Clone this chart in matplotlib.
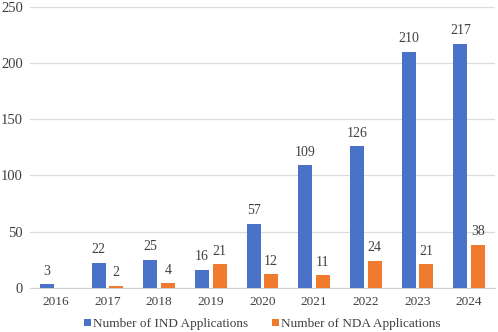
import numpy as np
import matplotlib.pyplot as plt

years = ["2016", "2017", "2018", "2019", "2020", "2021", "2022", "2023", "2024"]
ind = [3, 22, 25, 16, 57, 109, 126, 210, 217]
nda = [0, 2, 4, 21, 12, 11, 24, 21, 38]

plt.rcParams['font.family'] = ['Liberation Serif', 'DejaVu Serif']

fig = plt.figure(figsize=(4.98, 3.32), dpi=100)
ax = fig.add_axes([0.06, 0.133, 0.934, 0.846])

x = np.arange(len(years))
w = 0.27
off = 0.17
ax.bar(x - off, ind, w, color='#4a72c9', label='Number of IND Applications', zorder=3)
ax.bar(x + off, nda, w, color='#f07a2e', label='Number of NDA Applications', zorder=3)

txt = '#404040'
for xi, v in zip(x, ind):
    ax.text(xi - off, v + 6, str(v), ha='center', va='bottom', fontsize=10, color=txt)
for xi, v in zip(x, nda):
    if v > 0:
        ax.text(xi + off, v + 6, str(v), ha='center', va='bottom', fontsize=10, color=txt)

ax.set_ylim(0, 250)
ax.set_yticks([0, 50, 100, 150, 200, 250])
ax.set_xlim(-0.5, 8.5)
ax.set_xticks(x)
ax.set_xticklabels(years)
ax.tick_params(length=0, labelsize=9.5, colors=txt)
ax.tick_params(axis='y', pad=5, labelsize=10.5)
ax.tick_params(axis='x', pad=6)
ax.grid(axis='y', color='#dcdcdc', linewidth=0.9, zorder=0)
for s in ['top', 'right', 'left']:
    ax.spines[s].set_visible(False)
ax.spines['bottom'].set_color('#d0d0d0')

ax.legend(loc='center', bbox_to_anchor=(0.5, -0.13), ncol=2, frameon=False,
          fontsize=9.5, handlelength=0.5, handleheight=0.5, handletextpad=0.2,
          columnspacing=1.8, labelcolor=txt)

fig.savefig('out.png', dpi=100)
